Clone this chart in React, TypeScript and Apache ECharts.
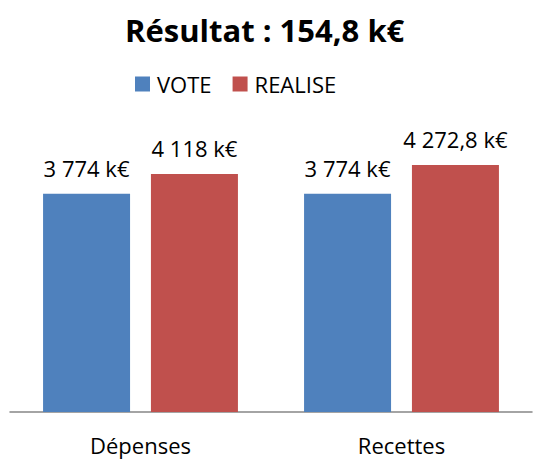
import React, { useEffect, useRef } from "react";
import * as echarts from "echarts";

const categories = ["Dépenses", "Recettes"];
const voteValues = [3774, 3774];
const realiseValues = [4118, 4272.8];
const seriesNames = ["VOTE", "REALISE"];
const titleText = "Résultat : 154,8 k€";

const FONT = "'Open Sans', 'Noto Sans', sans-serif";

function fmt(v: number): string {
  const parts = v.toString().split(".");
  const int = parts[0].replace(/\B(?=(\d{3})+(?!\d))/g, " ");
  return int + (parts[1] ? "," + parts[1] : "") + " k€";
}

export default function App() {
  const ref = useRef<HTMLDivElement>(null);
  useEffect(() => {
    if (!ref.current) return;
    const chart = echarts.init(ref.current, undefined, { renderer: "svg" });
    const label = {
      show: true,
      position: "top" as const,
      distance: 15,
      color: "#000",
      fontFamily: FONT,
      fontSize: 22,
      formatter: (p: any) => fmt(p.value),
    };
    chart.setOption({
      animation: false,
      backgroundColor: "#fff",
      title: {
        text: titleText,
        left: 120,
        top: 9,
        textStyle: { fontFamily: FONT, fontSize: 31, fontWeight: "bold", color: "#000" },
      },
      legend: {
        top: 68,
        left: 130,
        itemWidth: 15,
        itemHeight: 15,
        itemGap: 21,
        icon: "rect",
        textStyle: { fontFamily: FONT, fontSize: 22, color: "#000", padding: [0, 0, 0, 2] },
        data: seriesNames,
      },
      grid: { left: 10, right: 2, top: 123, bottom: 48 },
      xAxis: {
        type: "category",
        data: categories,
        axisLine: { lineStyle: { color: "#868686", width: 1.5 } },
        axisTick: { show: false },
        axisLabel: { color: "#000", fontFamily: FONT, fontSize: 22, lineHeight: 22, margin: 22 },
      },
      yAxis: {
        type: "value",
        min: 0,
        max: 5000,
        show: false,
        splitLine: { show: false },
      },
      series: [
        {
          name: seriesNames[0],
          type: "bar",
          data: voteValues,
          barWidth: 87,
          barGap: "24%",
          itemStyle: { color: "#4F81BD" },
          label,
        },
        {
          name: seriesNames[1],
          type: "bar",
          data: realiseValues,
          barWidth: 87,
          itemStyle: { color: "#C0504D" },
          label,
        },
      ],
    });
    return () => chart.dispose();
  }, []);
  return (
    <div
      ref={ref}
      style={{ position: "fixed", left: 0, top: 0, width: 534, height: 460 }}
    />
  );
}
